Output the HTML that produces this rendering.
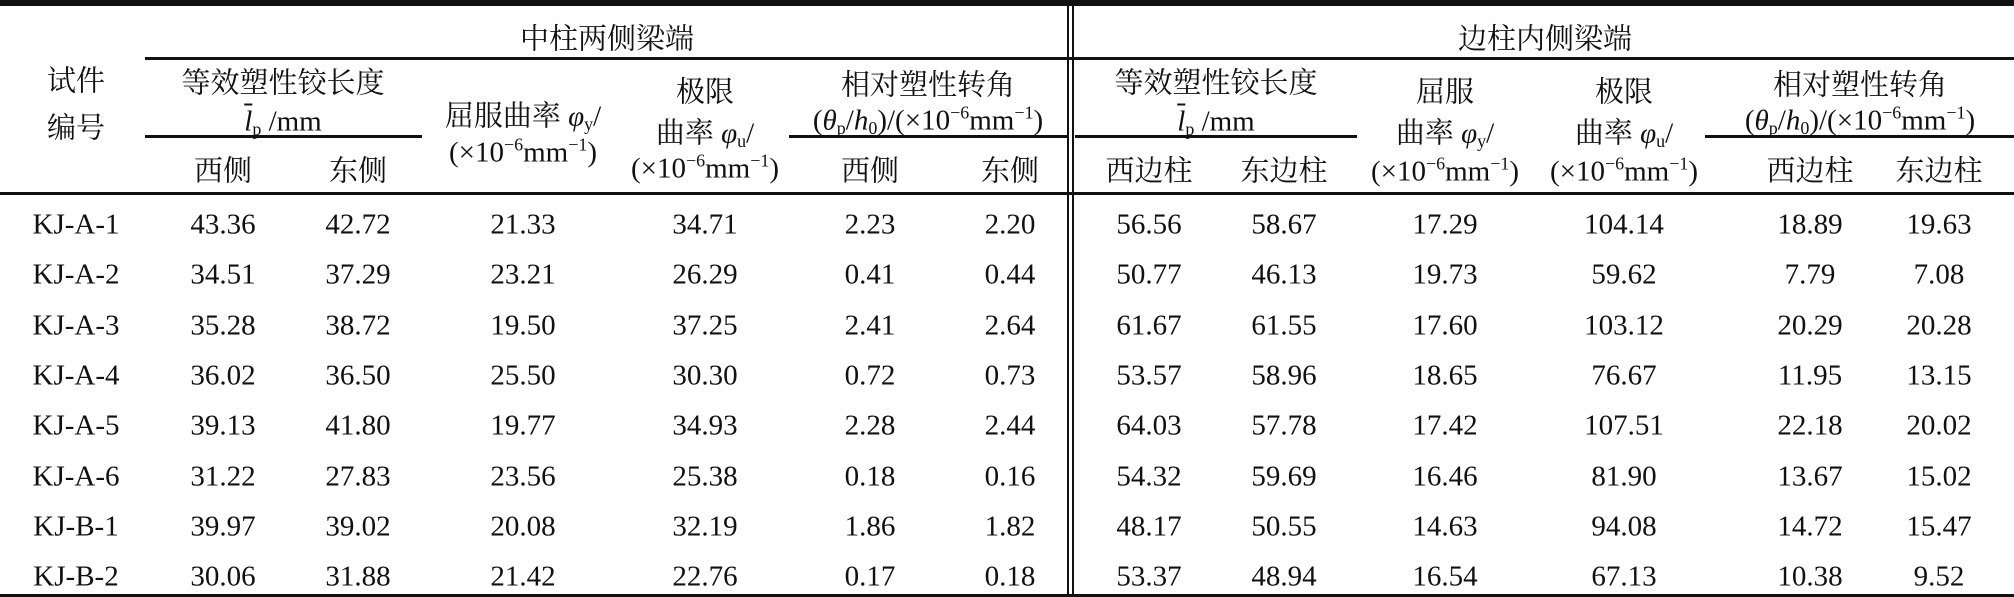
<!DOCTYPE html>
<html><head><meta charset="utf-8"><style>
html,body{margin:0;padding:0;background:#fff;}
body{width:2014px;height:597px;position:relative;overflow:hidden;font-family:"Liberation Serif","Noto Serif CJK SC",serif;font-size:29px;color:#111;}
.t{position:absolute;transform:translate(-50%,-50%);white-space:nowrap;line-height:1;}
.h{position:absolute;background:#111;}
i{font-style:italic;}
sup,sub{font-size:0.62em;line-height:0;}
sup{vertical-align:0.6em;}
sub{vertical-align:-0.25em;}
.ov{text-decoration:overline;}
</style></head><body>
<div class="h" style="left:0;top:0;width:2014px;height:6px"></div>
<div class="h" style="left:145px;top:57px;width:1869px;height:3px"></div>
<div class="h" style="left:145px;top:135px;width:277px;height:3px"></div>
<div class="h" style="left:789px;top:135px;width:279px;height:3px"></div>
<div class="h" style="left:1075px;top:135px;width:282px;height:3px"></div>
<div class="h" style="left:1705px;top:135px;width:309px;height:3px"></div>
<div class="h" style="left:0;top:192px;width:2014px;height:3px"></div>
<div class="h" style="left:0;top:594px;width:2014px;height:3px"></div>
<div class="h" style="left:1067px;top:0;width:2px;height:597px"></div>
<div class="h" style="left:1072px;top:0;width:2px;height:597px"></div>

<div class="t" style="left:607px;top:40px">中柱两侧梁端</div>
<div class="t" style="left:1545px;top:40px">边柱内侧梁端</div>
<div class="t" style="left:76px;top:82px">试件</div>
<div class="t" style="left:76px;top:129px">编号</div>

<div class="t" style="left:283px;top:84px">等效塑性铰长度</div>
<div class="t" style="left:283px;top:122px"><i class="ov">l</i><sub>p</sub> /mm</div>
<div class="t" style="left:523px;top:117px">屈服曲率 <i>φ</i><sub>y</sub>/</div>
<div class="t" style="left:523px;top:153px">(×10<sup>−6</sup>mm<sup>−1</sup>)</div>
<div class="t" style="left:705px;top:93px">极限</div>
<div class="t" style="left:705px;top:134px">曲率 <i>φ</i><sub>u</sub>/</div>
<div class="t" style="left:705px;top:169px">(×10<sup>−6</sup>mm<sup>−1</sup>)</div>
<div class="t" style="left:928px;top:86px">相对塑性转角</div>
<div class="t" style="left:928px;top:121px">(<i>θ</i><sub>p</sub>/<i>h</i><sub>0</sub>)/(×10<sup>−6</sup>mm<sup>−1</sup>)</div>
<div class="t" style="left:223px;top:172px">西侧</div>
<div class="t" style="left:358px;top:172px">东侧</div>
<div class="t" style="left:870px;top:172px">西侧</div>
<div class="t" style="left:1010px;top:172px">东侧</div>

<div class="t" style="left:1216px;top:84px">等效塑性铰长度</div>
<div class="t" style="left:1216px;top:122px"><i class="ov">l</i><sub>p</sub> /mm</div>
<div class="t" style="left:1445px;top:93px">屈服</div>
<div class="t" style="left:1445px;top:134px">曲率 <i>φ</i><sub>y</sub>/</div>
<div class="t" style="left:1445px;top:172px">(×10<sup>−6</sup>mm<sup>−1</sup>)</div>
<div class="t" style="left:1624px;top:93px">极限</div>
<div class="t" style="left:1624px;top:134px">曲率 <i>φ</i><sub>u</sub>/</div>
<div class="t" style="left:1624px;top:172px">(×10<sup>−6</sup>mm<sup>−1</sup>)</div>
<div class="t" style="left:1860px;top:86px">相对塑性转角</div>
<div class="t" style="left:1860px;top:121px">(<i>θ</i><sub>p</sub>/<i>h</i><sub>0</sub>)/(×10<sup>−6</sup>mm<sup>−1</sup>)</div>
<div class="t" style="left:1149px;top:172px">西边柱</div>
<div class="t" style="left:1284px;top:172px">东边柱</div>
<div class="t" style="left:1810px;top:172px">西边柱</div>
<div class="t" style="left:1939px;top:172px">东边柱</div>

<!-- rows -->
<div class="t" style="left:76px;top:225px">KJ-A-1</div><div class="t" style="left:223px;top:225px">43.36</div><div class="t" style="left:358px;top:225px">42.72</div><div class="t" style="left:523px;top:225px">21.33</div><div class="t" style="left:705px;top:225px">34.71</div><div class="t" style="left:870px;top:225px">2.23</div><div class="t" style="left:1010px;top:225px">2.20</div><div class="t" style="left:1149px;top:225px">56.56</div><div class="t" style="left:1284px;top:225px">58.67</div><div class="t" style="left:1445px;top:225px">17.29</div><div class="t" style="left:1624px;top:225px">104.14</div><div class="t" style="left:1810px;top:225px">18.89</div><div class="t" style="left:1939px;top:225px">19.63</div>
<div class="t" style="left:76px;top:275px">KJ-A-2</div><div class="t" style="left:223px;top:275px">34.51</div><div class="t" style="left:358px;top:275px">37.29</div><div class="t" style="left:523px;top:275px">23.21</div><div class="t" style="left:705px;top:275px">26.29</div><div class="t" style="left:870px;top:275px">0.41</div><div class="t" style="left:1010px;top:275px">0.44</div><div class="t" style="left:1149px;top:275px">50.77</div><div class="t" style="left:1284px;top:275px">46.13</div><div class="t" style="left:1445px;top:275px">19.73</div><div class="t" style="left:1624px;top:275px">59.62</div><div class="t" style="left:1810px;top:275px">7.79</div><div class="t" style="left:1939px;top:275px">7.08</div>
<div class="t" style="left:76px;top:326px">KJ-A-3</div><div class="t" style="left:223px;top:326px">35.28</div><div class="t" style="left:358px;top:326px">38.72</div><div class="t" style="left:523px;top:326px">19.50</div><div class="t" style="left:705px;top:326px">37.25</div><div class="t" style="left:870px;top:326px">2.41</div><div class="t" style="left:1010px;top:326px">2.64</div><div class="t" style="left:1149px;top:326px">61.67</div><div class="t" style="left:1284px;top:326px">61.55</div><div class="t" style="left:1445px;top:326px">17.60</div><div class="t" style="left:1624px;top:326px">103.12</div><div class="t" style="left:1810px;top:326px">20.29</div><div class="t" style="left:1939px;top:326px">20.28</div>
<div class="t" style="left:76px;top:376px">KJ-A-4</div><div class="t" style="left:223px;top:376px">36.02</div><div class="t" style="left:358px;top:376px">36.50</div><div class="t" style="left:523px;top:376px">25.50</div><div class="t" style="left:705px;top:376px">30.30</div><div class="t" style="left:870px;top:376px">0.72</div><div class="t" style="left:1010px;top:376px">0.73</div><div class="t" style="left:1149px;top:376px">53.57</div><div class="t" style="left:1284px;top:376px">58.96</div><div class="t" style="left:1445px;top:376px">18.65</div><div class="t" style="left:1624px;top:376px">76.67</div><div class="t" style="left:1810px;top:376px">11.95</div><div class="t" style="left:1939px;top:376px">13.15</div>
<div class="t" style="left:76px;top:426px">KJ-A-5</div><div class="t" style="left:223px;top:426px">39.13</div><div class="t" style="left:358px;top:426px">41.80</div><div class="t" style="left:523px;top:426px">19.77</div><div class="t" style="left:705px;top:426px">34.93</div><div class="t" style="left:870px;top:426px">2.28</div><div class="t" style="left:1010px;top:426px">2.44</div><div class="t" style="left:1149px;top:426px">64.03</div><div class="t" style="left:1284px;top:426px">57.78</div><div class="t" style="left:1445px;top:426px">17.42</div><div class="t" style="left:1624px;top:426px">107.51</div><div class="t" style="left:1810px;top:426px">22.18</div><div class="t" style="left:1939px;top:426px">20.02</div>
<div class="t" style="left:76px;top:477px">KJ-A-6</div><div class="t" style="left:223px;top:477px">31.22</div><div class="t" style="left:358px;top:477px">27.83</div><div class="t" style="left:523px;top:477px">23.56</div><div class="t" style="left:705px;top:477px">25.38</div><div class="t" style="left:870px;top:477px">0.18</div><div class="t" style="left:1010px;top:477px">0.16</div><div class="t" style="left:1149px;top:477px">54.32</div><div class="t" style="left:1284px;top:477px">59.69</div><div class="t" style="left:1445px;top:477px">16.46</div><div class="t" style="left:1624px;top:477px">81.90</div><div class="t" style="left:1810px;top:477px">13.67</div><div class="t" style="left:1939px;top:477px">15.02</div>
<div class="t" style="left:76px;top:527px">KJ-B-1</div><div class="t" style="left:223px;top:527px">39.97</div><div class="t" style="left:358px;top:527px">39.02</div><div class="t" style="left:523px;top:527px">20.08</div><div class="t" style="left:705px;top:527px">32.19</div><div class="t" style="left:870px;top:527px">1.86</div><div class="t" style="left:1010px;top:527px">1.82</div><div class="t" style="left:1149px;top:527px">48.17</div><div class="t" style="left:1284px;top:527px">50.55</div><div class="t" style="left:1445px;top:527px">14.63</div><div class="t" style="left:1624px;top:527px">94.08</div><div class="t" style="left:1810px;top:527px">14.72</div><div class="t" style="left:1939px;top:527px">15.47</div>
<div class="t" style="left:76px;top:577px">KJ-B-2</div><div class="t" style="left:223px;top:577px">30.06</div><div class="t" style="left:358px;top:577px">31.88</div><div class="t" style="left:523px;top:577px">21.42</div><div class="t" style="left:705px;top:577px">22.76</div><div class="t" style="left:870px;top:577px">0.17</div><div class="t" style="left:1010px;top:577px">0.18</div><div class="t" style="left:1149px;top:577px">53.37</div><div class="t" style="left:1284px;top:577px">48.94</div><div class="t" style="left:1445px;top:577px">16.54</div><div class="t" style="left:1624px;top:577px">67.13</div><div class="t" style="left:1810px;top:577px">10.38</div><div class="t" style="left:1939px;top:577px">9.52</div>
</body></html>
